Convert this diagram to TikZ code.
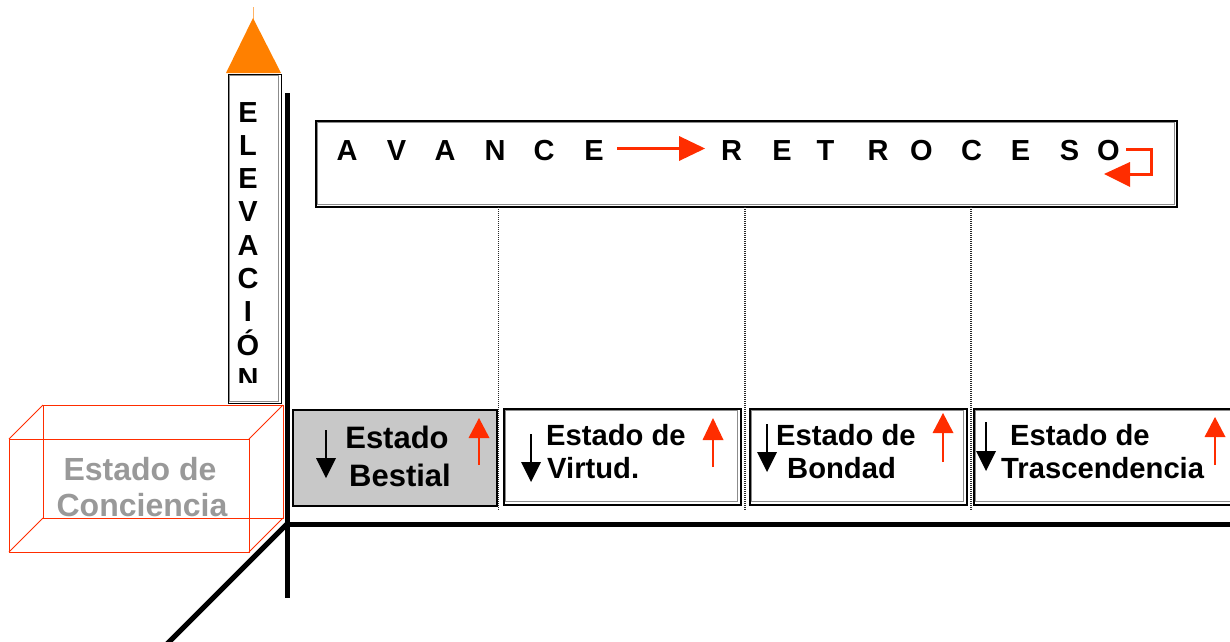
\documentclass[tikz,border=0pt]{standalone}
\usepackage{fontspec}
\setmainfont{Liberation Sans}
\definecolor{redA}{RGB}{255,45,0}
\definecolor{orangeA}{RGB}{255,128,0}
\definecolor{grayfill}{RGB}{200,200,200}
\definecolor{graytext}{RGB}{153,153,153}
\begin{document}
\begin{tikzpicture}[x=1pt,y=-1pt,
  txt/.style={inner sep=0pt, font=\bfseries\fontsize{29.2}{33}\selectfont},
  bigtxt/.style={inner sep=0pt, font=\bfseries\fontsize{31}{36}\selectfont},
  spaced/.style={inner sep=0pt, anchor=base, font=\bfseries\fontsize{29}{33}\selectfont},
  framebox/.style={draw=black, line width=1.8pt, inner sep=0pt},
  innerframe/.style={draw=black!45, line width=0.7pt},
  axis/.style={line width=5pt},
  guide/.style={draw=black!85, line width=1.1pt, dash pattern=on 1pt off 1pt},
  cube/.style={draw=redA, line width=0.9pt}]
\useasboundingbox (0,0) rectangle (1230,641);

% red cuboid "Estado de Conciencia"
\draw[cube] (43,405) rectangle (283,518);
\draw[cube] (9,439) rectangle (249,552);
\draw[cube] (9,439) -- (43,405) (249,439) -- (283,405) (9,552) -- (43,518) (249,552) -- (283,518);
\node[bigtxt, font=\bfseries\fontsize{32}{36}\selectfont, text=graytext, anchor=base] (conc1) at (140,480) {Estado de};
\node[bigtxt, font=\bfseries\fontsize{32}{36}\selectfont, text=graytext, anchor=base] (conc2) at (142,516) {Conciencia};

% orange triangle + elevation box
\draw[orangeA!60, line width=0.6pt] (253,7) -- (253,19);
\fill[orangeA] (253,18) -- (281,73) -- (226,73) -- cycle;
\node[framebox, line width=1.5pt, minimum width=53pt, minimum height=329pt, anchor=north west] (elev) at (227.5,73.5) {};
\draw[innerframe, line width=0.5pt] (229.5,75.5) rectangle (278.5,401.5);
\begin{scope}
\clip (229,76) rectangle (279,382);
\foreach \l [count=\i] in {E,L,E,V,A,C,I,Ó,N}
  \node[spaced] (el\i) at (248,{122+33.3*(\i-1)}) {\l};
\end{scope}

% axes
\coordinate (axtop) at (287,93);
\coordinate (axbot) at (287,598);
\coordinate (origin) at (287,524);
\coordinate (axright) at (1232,524);
\coordinate (axdiag) at (166,645);
\draw[axis] (axtop) -- (axbot);
\draw[axis] (origin) -- (axright);
\draw[axis] (origin) -- (axdiag);

% top box
\node[framebox, line width=1.6pt, minimum width=861pt, minimum height=86pt, anchor=north west] (top) at (315,120) {};
\draw[innerframe, line width=0.5pt] (317,122) rectangle (1174,204);
\foreach \l/\x [count=\i] in {A/347,V/396.5,A/445,N/495,C/544,E/594}
  \node[spaced] (av\i) at (\x,160) {\l};
\foreach \l/\x [count=\i] in {R/731.5,E/782,T/825.5,R/878,O/921.5,C/971.5,E/1020.5,S/1069.5,O/1108.5}
  \node[spaced] (re\i) at (\x,160) {\l};
\draw[redA, line width=3pt] (617,148.5) -- (681,148.5);
\fill[redA] (679,136) -- (705,148.5) -- (679,161) -- cycle;
\draw[redA, line width=3pt] (1126,149) -- (1151,149) -- (1151,174) -- (1128,174);
\fill[redA] (1130,162) -- (1104,174) -- (1130,187) -- cycle;

% dotted guides
\foreach \x in {498.5,745,971}
  \draw[guide] (\x,207) -- (\x,510);

% state boxes
\node[framebox, fill=grayfill, minimum width=204pt, minimum height=96pt, anchor=north west] (bestial) at (292,409) {};
\node[framebox, minimum width=237pt, minimum height=96pt, anchor=north west] (virtud) at (503,408) {};
\draw[innerframe] (505.5,410.5) rectangle (737.5,501.5);
\node[framebox, minimum width=217pt, minimum height=96pt, anchor=north west] (bondad) at (749,408) {};
\draw[innerframe] (751.5,410.5) rectangle (963.5,501.5);
\node[framebox, minimum width=270pt, minimum height=96pt, anchor=north west] (trasc) at (973,408) {};
\draw[innerframe] (975.5,410.5) rectangle (1240,501.5);

% texts
\node[bigtxt, anchor=base] (b1) at (397,448) {Estado};
\node[bigtxt, anchor=base] (b2) at (400,486) {Bestial};
\node[txt, anchor=base west] (v1) at (546,445) {Estado de};
\node[txt, anchor=base west] (v2) at (547,478) {Virtud.};
\node[txt, anchor=base west] (o1) at (776,445) {Estado de};
\node[txt, anchor=base west] (o2) at (787,478) {Bondad};
\node[txt, anchor=base west] (t1) at (1010,445) {Estado de};
\node[txt, anchor=base west] (t2) at (1001,478) {Trascendencia};

% black down arrows
\foreach \x/\a/\b/\c in {326/430/458/478, 531/434/462/482, 767/424/452/472, 986/422/451/471} {
  \draw[line width=2pt] (\x,\a) -- (\x,\b+1);
  \fill (\x-10,\b) -- (\x+10,\b) -- (\x,\c) -- cycle;
}
% red up arrows
\foreach \x/\a/\b/\c in {479/418/438/465, 713/418/440/467, 943/413/433/462, 1215/417/437/465} {
  \draw[redA, line width=1.8pt] (\x,\c) -- (\x,\b-1);
  \fill[redA] (\x-10.5,\b) -- (\x+10.5,\b) -- (\x,\a) -- cycle;
}
\end{tikzpicture}
\end{document}
